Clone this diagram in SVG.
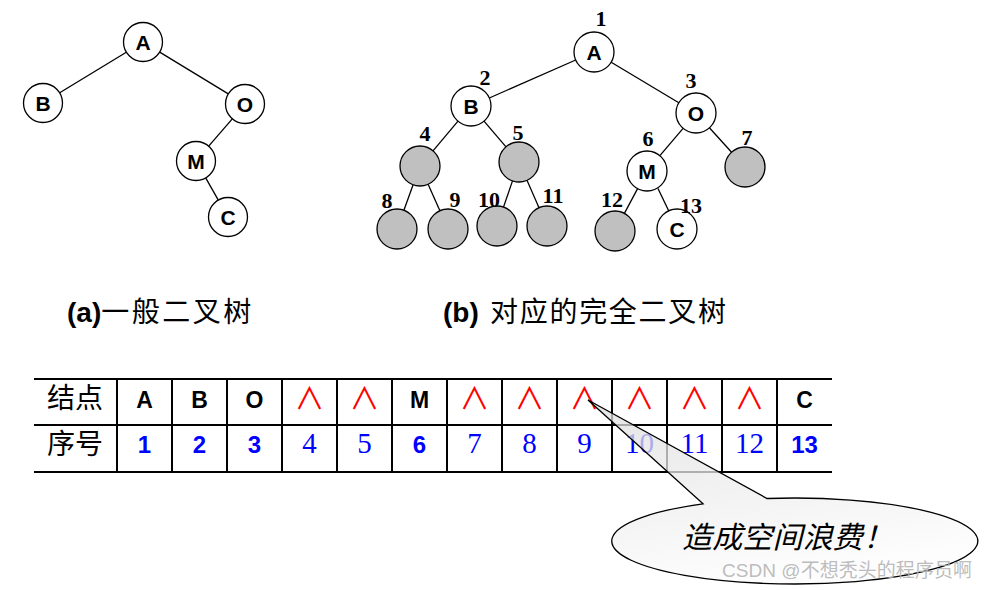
<svg xmlns="http://www.w3.org/2000/svg" width="988" height="590" viewBox="0 0 988 590">
<style>
.n{fill:#fff;stroke:#000;stroke-width:1.3}
.g{fill:#c0c0c0;stroke:#000;stroke-width:1.3}
.e line{stroke:#000;stroke-width:1.3}
.lt{font-family:"Liberation Sans",Arial,sans-serif;font-weight:bold;font-size:21px;text-anchor:middle}
.num{font-family:"Liberation Serif","Times New Roman",serif;font-weight:bold;font-size:22px;text-anchor:middle}
.cap{font-family:"Liberation Sans","Noto Sans CJK SC",sans-serif;font-size:28px}
.cj{font-family:"Noto Sans CJK SC",sans-serif}
.tl{stroke:#000;stroke-width:2}
.hd{font-family:"Noto Sans CJK SC",sans-serif;font-size:28px;text-anchor:middle}
.c1{font-family:"Liberation Sans",Arial,sans-serif;font-weight:bold;font-size:23px;text-anchor:middle}
.nul{font-family:"Noto Sans CJK SC",sans-serif;font-size:30px;fill:#ff0000;text-anchor:middle}
.bb{font-family:"Liberation Sans",Arial,sans-serif;font-weight:bold;font-size:24px;fill:#0000ff;text-anchor:middle}
.bs{font-family:"Liberation Serif","Times New Roman",serif;font-size:29px;fill:#0000ff;text-anchor:middle}
</style>
<defs>
<linearGradient id="cg" x1="0" y1="0" x2="0.3" y2="1">
<stop offset="0" stop-color="#dcdcdc"/>
<stop offset="1" stop-color="#fcfcfc"/>
</linearGradient>
</defs>

<!-- Tree (a) connectors -->
<g id="edges-a" class="e">
<line x1="126.3" y1="52.2" x2="59.7" y2="92.8"/>
<line x1="159.7" y1="52.1" x2="228.3" y2="93.9"/>
<line x1="232.3" y1="118.8" x2="208.7" y2="146.2"/>
<line x1="205.7" y1="177.9" x2="218.3" y2="200.1"/>
</g>
<g id="a-A"><circle class="n" cx="143" cy="42" r="19.5"/><text class="lt" x="143" y="50" font-size="22">A</text></g>
<g id="a-B"><circle class="n" cx="43" cy="103" r="19.5"/><text class="lt" x="43" y="111" font-size="22">B</text></g>
<g id="a-O"><circle class="n" cx="245" cy="104" r="19.5"/><text class="lt" x="245" y="112" font-size="22">O</text></g>
<g id="a-M"><circle class="n" cx="196" cy="161" r="19.5"/><text class="lt" x="196" y="169" font-size="22">M</text></g>
<g id="a-C"><circle class="n" cx="228" cy="217" r="19.5"/><text class="lt" x="228" y="225" font-size="22">C</text></g>

<!-- Tree (b) connectors -->
<g id="edges-b" class="e">
<line x1="575.7" y1="60" x2="489.3" y2="98"/>
<line x1="611.2" y1="62.3" x2="678.8" y2="102.7"/>
<line x1="458" y1="121.2" x2="433" y2="150.8"/>
<line x1="484" y1="121.2" x2="506" y2="146.8"/>
<line x1="683.1" y1="128.3" x2="659.9" y2="155.7"/>
<line x1="709.4" y1="127.8" x2="731.6" y2="152.2"/>
<line x1="413.1" y1="184.8" x2="403.9" y2="210.2"/>
<line x1="428.1" y1="184.3" x2="439.9" y2="210.7"/>
<line x1="512.5" y1="180.9" x2="503.5" y2="207.1"/>
<line x1="527" y1="180.3" x2="539" y2="207.7"/>
<line x1="637.6" y1="188.6" x2="624.4" y2="213.4"/>
<line x1="658" y1="188.5" x2="669" y2="211.5"/>
</g>
<g id="b1"><circle class="n" cx="594" cy="52" r="20"/><text class="lt" x="594" y="59.5">A</text><text class="num" x="601" y="26">1</text></g>
<g id="b2"><circle class="n" cx="471" cy="106" r="20"/><text class="lt" x="471" y="113.5">B</text><text class="num" x="485" y="85">2</text></g>
<g id="b3"><circle class="n" cx="696" cy="113" r="20"/><text class="lt" x="696" y="120.5">O</text><text class="num" x="691" y="88">3</text></g>
<g id="b4"><circle class="g" cx="420" cy="166" r="20"/><text class="num" x="425" y="141">4</text></g>
<g id="b5"><circle class="g" cx="519" cy="162" r="20"/><text class="num" x="518" y="140">5</text></g>
<g id="b6"><circle class="n" cx="647" cy="171" r="20"/><text class="lt" x="647" y="178.5">M</text><text class="num" x="648" y="146">6</text></g>
<g id="b7"><circle class="g" cx="745" cy="167" r="20"/><text class="num" x="747" y="145">7</text></g>
<g id="b8"><circle class="g" cx="397" cy="229" r="20"/><text class="num" x="387" y="208">8</text></g>
<g id="b9"><circle class="g" cx="448" cy="229" r="20"/><text class="num" x="455" y="207">9</text></g>
<g id="b10"><circle class="g" cx="497" cy="226" r="20"/><text class="num" x="489" y="207">10</text></g>
<g id="b11"><circle class="g" cx="547" cy="226" r="20"/><text class="num" x="553" y="203">11</text></g>
<g id="b12"><circle class="g" cx="615" cy="231" r="20"/><text class="num" x="612" y="207">12</text></g>
<g id="b13"><circle class="n" cx="677" cy="229" r="20"/><text class="lt" x="677" y="236.5">C</text><text class="num" x="691" y="213">13</text></g>

<!-- Captions -->
<g id="caption-a"><text class="cap" x="67" y="322"><tspan font-weight="bold">(a)</tspan><tspan class="cj" textLength="150" lengthAdjust="spacing">一般二叉树</tspan></text></g>
<g id="caption-b"><text class="cap" x="443" y="322"><tspan font-weight="bold">(b)</tspan><tspan class="cj" x="490" textLength="236" lengthAdjust="spacing">对应的完全二叉树</tspan></text></g>

<!-- Table -->
<g id="table">
<line class="tl" x1="34" y1="379" x2="832" y2="379"/>
<line class="tl" x1="34" y1="425" x2="832" y2="425"/>
<line class="tl" x1="34" y1="472" x2="832" y2="472" stroke-width="2.4"/>
<g class="tl">
<line x1="117" y1="379" x2="117" y2="472"/>
<line x1="172" y1="379" x2="172" y2="472"/>
<line x1="227" y1="379" x2="227" y2="472"/>
<line x1="282" y1="379" x2="282" y2="472"/>
<line x1="337" y1="379" x2="337" y2="472"/>
<line x1="392" y1="379" x2="392" y2="472"/>
<line x1="447" y1="379" x2="447" y2="472"/>
<line x1="502" y1="379" x2="502" y2="472"/>
<line x1="557" y1="379" x2="557" y2="472"/>
<line x1="612" y1="379" x2="612" y2="472"/>
<line x1="667" y1="379" x2="667" y2="472"/>
<line x1="722" y1="379" x2="722" y2="472"/>
<line x1="777" y1="379" x2="777" y2="472"/>
</g>
<text class="hd" x="75" y="408">结点</text>
<text class="hd" x="75" y="454">序号</text>
<text class="c1" x="144.5" y="408">A</text>
<text class="c1" x="199.5" y="408">B</text>
<text class="c1" x="254.5" y="408">O</text>
<text class="nul" x="309.5" y="409">∧</text>
<text class="nul" x="364.5" y="409">∧</text>
<text class="c1" x="419.5" y="408">M</text>
<text class="nul" x="474.5" y="409">∧</text>
<text class="nul" x="529.5" y="409">∧</text>
<text class="nul" x="584.5" y="409">∧</text>
<text class="nul" x="639.5" y="409">∧</text>
<text class="nul" x="694.5" y="409">∧</text>
<text class="nul" x="749.5" y="409">∧</text>
<text class="c1" x="804.5" y="408">C</text>
<text class="bb" x="144.5" y="453">1</text>
<text class="bb" x="199.5" y="453">2</text>
<text class="bb" x="254.5" y="453">3</text>
<text class="bs" x="309.5" y="453">4</text>
<text class="bs" x="364.5" y="453">5</text>
<text class="bb" x="419.5" y="453">6</text>
<text class="bs" x="474.5" y="453">7</text>
<text class="bs" x="529.5" y="453">8</text>
<text class="bs" x="584.5" y="453">9</text>
<text class="bs" x="639.5" y="453">10</text>
<text class="bs" x="694.5" y="453">11</text>
<text class="bs" x="749.5" y="453">12</text>
<text class="bb" x="804.5" y="453">13</text>
</g>

<!-- Callout -->
<g id="callout">
<path d="M703,503.8 L588,400 L767,498.5 A183,43 0 1 1 703,503.8 Z" fill="url(#cg)" fill-opacity="0.75" stroke="#000" stroke-width="1.3"/>
<text x="682" y="548" font-family="Noto Sans CJK SC,sans-serif" font-size="30" font-style="italic" textLength="211" lengthAdjust="spacing">造成空间浪费！</text>
</g>

<text x="722" y="577" font-family="Liberation Sans,Noto Sans CJK SC,sans-serif" font-size="19" fill="#b4b4b4" fill-opacity="0.9" textLength="250" lengthAdjust="spacing">CSDN @不想秃头的程序员啊</text>
</svg>
